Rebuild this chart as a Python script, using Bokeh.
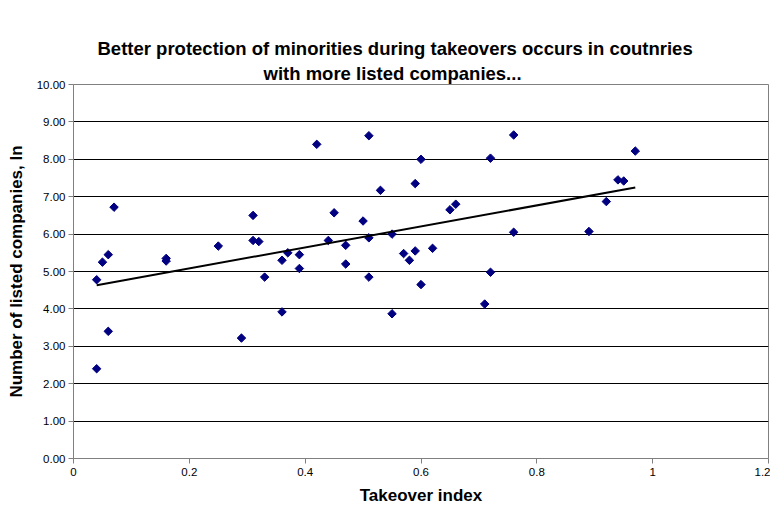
import numpy as np
from bokeh.plotting import figure
from bokeh.models import (Range1d, FixedTicker, NumeralTickFormatter, CustomJSTickFormatter,
                          Title, ColumnDataSource)
from bokeh.embed import file_html
from bokeh.resources import INLINE

title_lines = ["Better protection of minorities during takeovers occurs in coutnries",
               "with more listed companies..."]
x_label = "Takeover index"
y_label = "Number of listed companies, ln"

takeover_index = [0.04, 0.04, 0.05, 0.06, 0.06, 0.07, 0.16, 0.16, 0.25, 0.29,
                  0.31, 0.31, 0.32, 0.33, 0.36, 0.36, 0.37, 0.39, 0.39, 0.42,
                  0.44, 0.45, 0.47, 0.47, 0.50, 0.51, 0.51, 0.51, 0.53, 0.55,
                  0.55, 0.57, 0.58, 0.59, 0.59, 0.60, 0.60, 0.62, 0.65, 0.66,
                  0.71, 0.72, 0.72, 0.76, 0.76, 0.89, 0.92, 0.94, 0.95, 0.97]
ln_listed = [4.78, 2.40, 5.25, 5.45, 3.40, 6.72, 5.35, 5.28, 5.68, 3.22,
             6.50, 5.83, 5.80, 4.85, 5.30, 3.92, 5.50, 5.45, 5.08, 8.40,
             5.83, 6.57, 5.70, 5.20, 6.35, 8.63, 5.90, 4.85, 7.17, 6.00,
             3.87, 5.48, 5.30, 7.35, 5.55, 8.00, 4.65, 5.62, 6.65, 6.80,
             4.13, 8.03, 4.98, 8.65, 6.05, 6.07, 6.87, 7.45, 7.42, 8.22]

x_ticks = [0, 0.2, 0.4, 0.6, 0.8, 1, 1.2]
y_ticks = [0, 1, 2, 3, 4, 5, 6, 7, 8, 9, 10]

FONT = "Liberation Sans"

p = figure(width=770, height=507, output_backend="svg", toolbar_location=None,
           x_range=Range1d(0, 1.2), y_range=Range1d(0, 10),
           min_border_left=73, min_border_right=2, min_border_top=84, min_border_bottom=44)
p.title = None
p.outline_line_color = "#808080"
p.outline_line_width = 1
p.background_fill_color = "white"
p.border_fill_color = "white"

# invisible spacer between the title block and the plot frame (closest to the plot)
spacer = Title(text=".", align="left", text_font=FONT, text_font_size="18.5px",
               text_alpha=0, standoff=12)
p.add_layout(spacer, "above")

# titles (first added is closest to the plot)
offsets = [190, 24]
for line, off in zip(reversed(title_lines), offsets):
    t = Title(text=line, align="left", text_font=FONT,
              text_font_size="18.5px", text_font_style="bold", text_color="black",
              offset=off, standoff=2)
    p.add_layout(t, "above")

p.xgrid.grid_line_color = None
p.ygrid.grid_line_color = "#000000"
p.ygrid.grid_line_width = 1
p.ygrid.ticker = FixedTicker(ticks=y_ticks)

p.xaxis.ticker = FixedTicker(ticks=x_ticks)
p.xaxis.formatter = CustomJSTickFormatter(code="return String(Math.round(tick*10)/10);")
p.yaxis.ticker = FixedTicker(ticks=y_ticks)
p.yaxis.formatter = NumeralTickFormatter(format="0.00")

for ax in (p.xaxis, p.yaxis):
    ax.axis_line_color = "#808080"
    ax.major_tick_line_color = "#808080"
    ax.major_tick_out = 5
    ax.major_tick_in = 0
    ax.minor_tick_line_color = None
    ax.major_label_text_font = FONT
    ax.major_label_text_font_size = "11.5px"
    ax.major_label_text_color = "black"
    ax.axis_label_text_font = FONT
    ax.axis_label_text_font_size = "17px"
    ax.axis_label_text_font_style = "bold"
    ax.axis_label_text_color = "black"

p.xaxis.axis_label = x_label
p.yaxis.axis_label = y_label
p.xaxis.major_label_standoff = 4
p.xaxis.axis_label_standoff = 7
p.yaxis.major_label_standoff = 3
p.yaxis.axis_label_standoff = 8

src = ColumnDataSource(dict(x=takeover_index, y=ln_listed))
p.scatter("x", "y", source=src, marker="square", angle=np.pi / 4, size=6,
          fill_color="#000080", line_color="#000080")

# linear trend line (least squares fit over data)
xs = np.array(takeover_index)
ys = np.array(ln_listed)
slope, intercept = np.polyfit(xs, ys, 1)
tx = [xs.min(), xs.max()]
ty = [slope * v + intercept for v in tx]
p.line(tx, ty, line_color="black", line_width=2)

open("out.html", "w").write(file_html(p, INLINE))
